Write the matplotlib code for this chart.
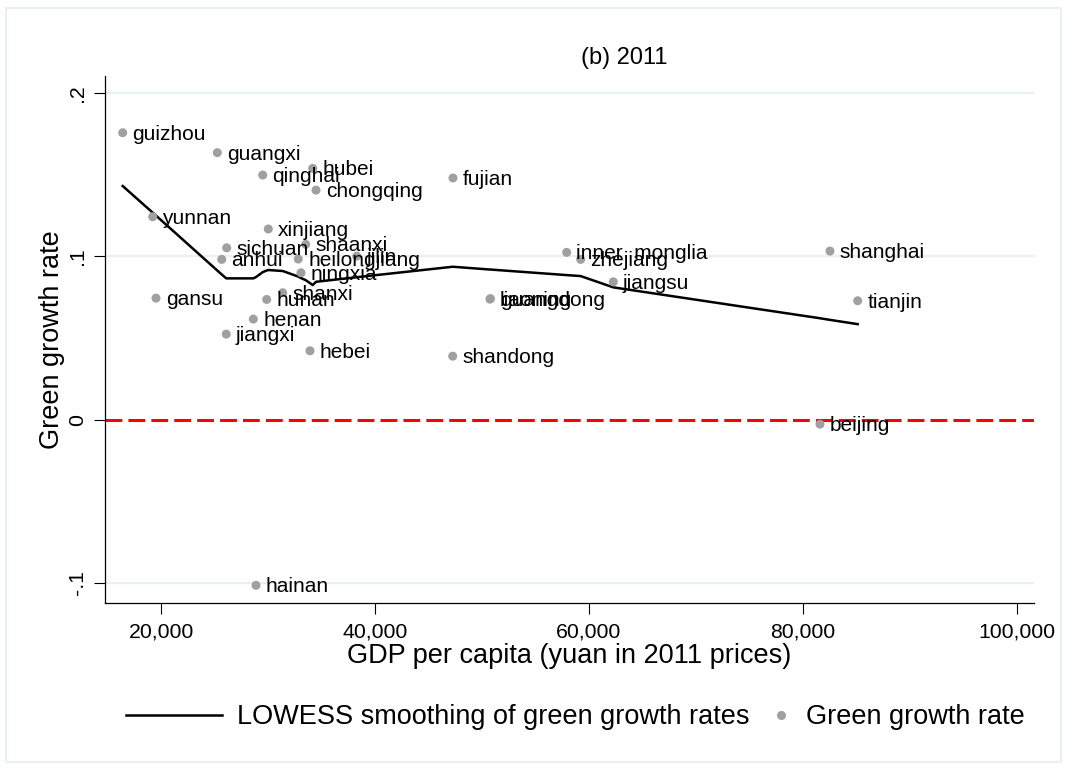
import matplotlib
matplotlib.use('Agg')
import matplotlib.pyplot as plt
from matplotlib.lines import Line2D
from matplotlib.patches import Rectangle
from matplotlib.ticker import FuncFormatter

plt.rcParams['font.family'] = ['Liberation Sans', 'DejaVu Sans']

# provinces, GDP per capita (yuan, 2011 prices) and green growth rate
provinces = ['guizhou', 'yunnan', 'gansu', 'guangxi', 'anhui', 'sichuan', 'jiangxi',
             'henan', 'hainan', 'qinghai', 'hunan', 'xinjiang', 'shanxi', 'heilongjiang',
             'ningxia', 'shaanxi', 'hebei', 'hubei', 'chongqing', 'jilin', 'shandong',
             'fujian', 'liaoning', 'guangdong', 'inner  monglia', 'zhejiang', 'jiangsu',
             'beijing', 'shanghai', 'tianjin']
gdp = [16419, 19224, 19533, 25263, 25675, 26142, 26100,
       28629, 28882, 29508, 29882, 30032, 31378, 32836,
       33089, 33528, 33930, 34182, 34491, 38296, 47271,
       47299, 50758, 50800, 57929, 59238, 62286,
       81610, 82545, 85134]
growth = [0.1755, 0.1241, 0.0743, 0.1633, 0.0980, 0.1051, 0.0523,
          0.0615, -0.1014, 0.1496, 0.0735, 0.1166, 0.0776, 0.0982,
          0.0898, 0.1072, 0.0421, 0.1537, 0.1404, 0.1000, 0.0388,
          0.1478, 0.0737, 0.0740, 0.1023, 0.0980, 0.0843,
          -0.0028, 0.1031, 0.0727]
# lowess fitted values, same order as gdp
lowess = [0.1429, 0.1266, 0.1248, 0.0912, 0.0888, 0.0864, 0.0864,
          0.0864, 0.0872, 0.0902, 0.0912, 0.0915, 0.0909, 0.0875,
          0.0866, 0.0853, 0.0835, 0.0823, 0.0843, 0.0871, 0.0935,
          0.0935, 0.0918, 0.0918, 0.0884, 0.0878, 0.0809,
          0.0620, 0.0610, 0.0584]

xticks = [20000, 40000, 60000, 80000, 100000]
yticks = [-0.1, 0, 0.1, 0.2]
ytick_labels = ['-.1', '0', '.1', '.2']

W, H = 1072, 769
fig = plt.figure(figsize=(W / 100, H / 100), dpi=100)
fig.patches.append(Rectangle((6 / W, 1 - 762 / H), 1055 / W, 754 / H, transform=fig.transFigure,
                             fill=False, edgecolor='#eaf0f2', lw=1.5))
ax = fig.add_axes([105 / W, 1 - 603 / H, (1034 - 105) / W, (603 - 76) / H])

for yv in [-0.1, 0.1, 0.2]:
    ax.axhline(yv, color='#e8f0f2', lw=1.6, zorder=0)
ax.axhline(0, color='red', lw=2.2, dashes=(5.5, 2.0), zorder=1)

pts = sorted(zip(gdp, lowess))
ax.plot([p[0] for p in pts], [p[1] for p in pts], color='black', lw=1.8, zorder=3)
ax.scatter(gdp, growth, s=42, color='#a0a0a0', edgecolors='none', zorder=4)
for name, x, y in zip(provinces, gdp, growth):
    ax.annotate(name, (x, y), xytext=(7, -1), textcoords='offset points',
                va='center', ha='left', fontsize=15, zorder=5)

ax.set_xlim(14764, 101621)
ax.set_ylim(-0.1122, 0.2102)
ax.set_xticks(xticks)
ax.xaxis.set_major_formatter(FuncFormatter(lambda v, p: f'{int(v):,}'))
ax.set_yticks(yticks)
ax.set_yticklabels(ytick_labels, rotation=90, va='center')
ax.tick_params(axis='both', length=8, width=0.8, labelsize=15.3)
ax.tick_params(axis='x', pad=6)
ax.tick_params(axis='y', pad=5)
for s in ['top', 'right']:
    ax.spines[s].set_visible(False)
for s in ['left', 'bottom']:
    ax.spines[s].set_linewidth(0.9)

ax.set_xlabel('GDP per capita (yuan in 2011 prices)', fontsize=19.5, labelpad=1)
ax.set_ylabel('Green growth rate', fontsize=19.5, labelpad=2)
fig.text(624 / W, 1 - 58 / H, '(b) 2011', fontsize=17, ha='center', va='center')

h1 = Line2D([], [], color='black', lw=1.8)
h2 = Line2D([], [], color='#a0a0a0', marker='o', ls='none', markersize=6.5, markeredgewidth=0)
leg1 = fig.legend([h1], ['LOWESS smoothing of green growth rates'], loc='center left',
                  bbox_to_anchor=(126 / W, 1 - 717 / H), frameon=False, fontsize=19.5,
                  handlelength=3.55, handletextpad=0.55, borderpad=0, borderaxespad=0)
leg2 = fig.legend([h2], ['Green growth rate'], loc='center left',
                  bbox_to_anchor=(773 / W, 1 - 717 / H), frameon=False, fontsize=19.5,
                  handlelength=0.6, handletextpad=0.6, borderpad=0, borderaxespad=0)

fig.savefig('out.png', dpi=100)
